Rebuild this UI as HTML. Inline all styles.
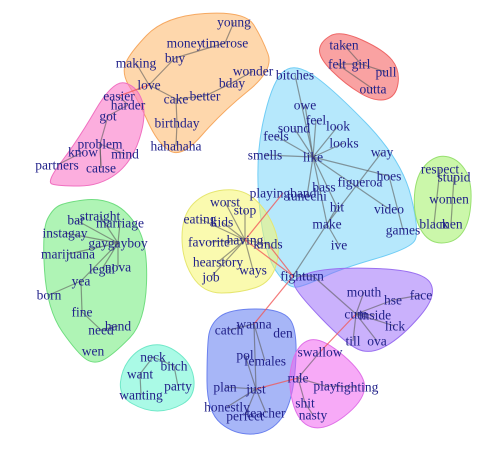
<!DOCTYPE html>
<html><head><meta charset="utf-8"><style>
html,body{margin:0;padding:0;background:#fff;}
svg{display:block;}
text{font-family:"Liberation Serif",serif;font-size:13.5px;fill:#22228a;text-anchor:middle;dominant-baseline:central;}
</style></head><body>
<svg id="g" width="481" height="450" viewBox="0 0 481 450">
<g id="hulls"></g><g id="edges"></g><g id="labels"></g>
</svg>
<script>
const groups = [
 ["orange","rgba(253,175,90,0.5)","#f6a860",[[128,55],[165,16],[245,11],[262,38],[274,70],[222,112],[182,158],[158,144],[138,100],[122,75]]],
 ["pink","rgba(250,120,200,0.6)","#f070c0",[[46,182],[78,140],[113,80],[137,86],[147,115],[132,162],[100,186],[58,186]]],
 ["red","rgba(245,100,100,0.6)","#ee6666",[[320,42],[340,30],[384,50],[400,70],[396,97],[375,102],[345,84],[319,58]]],
 ["lightblue","rgba(110,210,250,0.5)","#70cdf5",[[271,85],[292,62],[329,85],[402,160],[420,233],[409,249],[340,269],[307,285],[288,289],[264,253],[255,160]]],
 ["lime","rgba(160,240,100,0.55)","#98e070",[[416,175],[435,155],[457,158],[472,180],[470,222],[455,243],[428,243],[413,215]]],
 ["yellow","rgba(245,245,110,0.55)","#e6e670",[[182,215],[205,192],[242,188],[267,210],[281,245],[272,282],[240,293],[203,293],[182,260]]],
 ["green","rgba(110,235,120,0.55)","#70dd80",[[68,202],[100,198],[127,210],[148,245],[145,322],[115,353],[95,365],[78,354],[47,310],[42,230],[53,208]]],
 ["teal","rgba(100,245,210,0.55)","#70e8c8",[[122,368],[140,347],[166,343],[193,365],[195,397],[170,411],[145,411],[119,396]]],
 ["blue","rgba(80,110,240,0.5)","#6a80ee",[[210,324],[230,309],[282,309],[298,330],[293,402],[271,433],[235,435],[207,412],[207,350]]],
 ["purple","rgba(150,100,250,0.5)","#9a70f0",[[292,278],[330,267],[422,270],[438,295],[402,337],[370,355],[345,343],[297,293]]],
 ["magenta","rgba(240,100,240,0.55)","#e070e8",[[287,380],[298,343],[322,337],[366,375],[363,402],[325,431],[298,423]]]
];
const words = ["young","money","timerose","buy","making","love","cake","better","bday","wonder","birthday","hahahaha",
"easier","harder","got","problem","know","mind","partners","cause",
"taken","felt","girl","pull","outta",
"bitches","owe","feel","look","sound","feels","looks","smells","like","way","hoes","figueroa","bass","playingband","tunechi","hit","video","make","games","ive","fight","turn",
"respect","stupid","women","black","men",
"worst","stop","eating","kids","favorite","having","kinds","hearstory","ways","job",
"straight","bar","marriage","instagay","gaygayboy","marijuana","legal","nova","yea","born","fine","need","hand","wen",
"neck","bitch","want","party","wanting",
"catch","wanna","den","pol","females","plan","just","honestly","teacher","perfect",
"mouth","hse","face","cum","inside","lick","till","ova",
"swallow","rule","play","fighting","shit","nasty"];
const wx = [234,185,225,175,136,149,176,205,232,253,177,176,
119,128,108,100,83,125,57,101,
344,337,361,386,373,
295,305,316,338,294,276,344,265,313,382,389,360,324,283,307,337,389,327,403,339,293,313,
440,454,449,434,451,
225,245,200,222,209,245,268,218,253,211,
100,76,120,65,118,68,102,118,81,49,82,101,118,93,
153,174,140,178,141,
229,254,283,245,265,225,256,227,266,245,
364,393,421,356,375,395,353,377,
320,298,325,357,305,313];
const wy = [22,43,43,58,63,85,99,96,83,71,123,146,
96,105,116,144,152,154,165,168,
45,64,64,72,89,
75,105,120,126,128,136,143,155,157,152,176,182,187,193,196,207,209,224,230,245,276,276,
169,177,199,224,224,
202,210,219,222,242,240,244,262,270,277,
216,220,223,233,243,254,269,267,281,295,312,330,326,351,
357,366,374,386,395,
330,324,333,355,361,387,389,407,413,416,
292,300,295,314,315,326,341,341,
352,378,386,387,403,415];
const edgeFrom = ["young","timerose","buy","love","making","cake","cake","better","bday","birthday","love",
"easier","harder","got","problem","problem","know","cause",
"taken","felt","girl","felt",
"like","like","like","like","like","like","like","like","like","like","like","like","like","make","make","make","way","hoes","fight",
"respect","stupid",
"having","having","having","having","having","having","having","having","having","having","having",
"gaygayboy","gaygayboy","gaygayboy","gaygayboy","gaygayboy","gaygayboy","legal","yea","yea","fine","need","need",
"neck","neck","want","bitch",
"wanna","wanna","just","just","just","just","pol","females",
"cum","cum","cum","cum","cum","cum","hse","turn",
"swallow","rule","rule","play","shit",
"fight","cum","just","kinds"];
const edgeTo = ["timerose","buy","love","cake","love","better","birthday","bday","wonder","hahahaha","easier",
"harder","got","problem","mind","cause","partners","problem",
"girl","girl","pull","outta",
"bitches","owe","feel","look","sound","feels","looks","smells","make","hit","tunechi","hoes","video","hit","fight","ive","make","games","turn",
"black","men",
"worst","stop","eating","kids","favorite","kinds","hearstory","ways","job","playingband","fight",
"straight","bar","marriage","instagay","marijuana","nova","gaygayboy","gaygayboy","born","yea","fine","hand",
"bitch","want","wanting","party",
"catch","just","plan","honestly","perfect","teacher","just","wanna",
"mouth","inside","lick","till","ova","hse","face","cum",
"rule","shit","play","fighting","nasty",
"wanna","swallow","rule","fight"];
const redPairs = ["love|easier","having|playingband","having|fight","fight|wanna","just|rule","cum|swallow","kinds|fight"];
const NS="http://www.w3.org/2000/svg";
const hullG=document.getElementById('hulls'),edgeG=document.getElementById('edges'),labG=document.getElementById('labels');
function roundedPath(pts){
  const n=pts.length,mid=(a,b)=>[(a[0]+b[0])/2,(a[1]+b[1])/2];
  let m0=mid(pts[n-1],pts[0]);let d='M'+m0[0]+','+m0[1];
  for(let i=0;i<n;i++){const m=mid(pts[i],pts[(i+1)%n]);d+=' Q'+pts[i][0]+','+pts[i][1]+' '+m[0]+','+m[1];}
  return d+'Z';
}
groups.forEach(gr=>{
  const p=document.createElementNS(NS,'path');
  p.setAttribute('d',roundedPath(gr[3]));
  p.setAttribute('fill',gr[1]);p.setAttribute('stroke',gr[2]);p.setAttribute('stroke-width','1');
  
  
  hullG.appendChild(p);
});
function pos(w){const i=words.indexOf(w);return [wx[i],wy[i]];}
edgeFrom.forEach((a,i)=>{
  const b=edgeTo[i];const A=pos(a),B=pos(b);
  const l=document.createElementNS(NS,'line');
  l.setAttribute('x1',A[0]);l.setAttribute('y1',A[1]);l.setAttribute('x2',B[0]);l.setAttribute('y2',B[1]);
  const red=redPairs.includes(a+'|'+b);
  l.setAttribute('stroke',red?'rgba(240,90,90,0.8)':'rgba(90,90,90,0.6)');l.setAttribute('stroke-width','1.2');
  
  
  edgeG.appendChild(l);
});
words.forEach((w,i)=>{
  const t=document.createElementNS(NS,'text');
  t.setAttribute('x',wx[i]);t.setAttribute('y',wy[i]);t.textContent=w;
  
  
  labG.appendChild(t);
});
</script>
</body></html>
